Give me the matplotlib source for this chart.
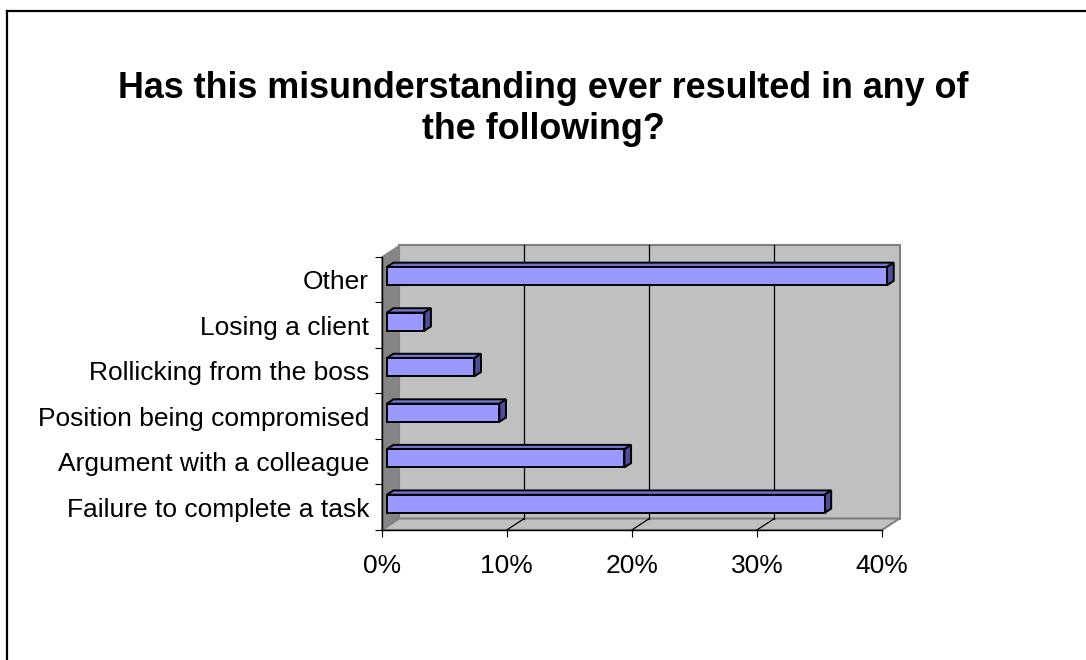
import matplotlib
matplotlib.use("Agg")
import matplotlib.pyplot as plt
from matplotlib.patches import Polygon
from matplotlib.lines import Line2D
from matplotlib.transforms import IdentityTransform
import numpy as np

# ---------------- data ----------------
categories = ["Failure to complete a task", "Argument with a colleague",
              "Position being compromised", "Rollicking from the boss",
              "Losing a client", "Other"]
values = [35, 19, 9, 7, 3, 40]
x_ticks = [0, 10, 20, 30, 40]
x_tick_labels = ["0%", "10%", "20%", "30%", "40%"]
gridlines = [10, 20, 30]
title = "Has this misunderstanding ever resulted in any of\nthe following?"

# ---------------- style ----------------
plt.rcParams['font.family'] = ['Liberation Sans', 'DejaVu Sans']
W, H, DPI = 1086, 660, 100
DX, DY = 17.5, 11.5          # full depth offset in pixels
BAR_D0, BAR_D1 = 0.29, 0.67  # bar depth (fraction)
BAR_H = 0.40                 # bar thickness in category units
FRONT, TOP, SIDE = '#9999FF', '#7373D0', '#4D4D99'
WALL, SIDEWALL, EDGE = '#C0C0C0', '#858585', '#808080'

fig = plt.figure(figsize=(W / DPI, H / DPI), dpi=DPI)
ax = fig.add_axes([381.7 / W, 1 - 530 / H, (882 - 381.7) / W, (530 - 256.7) / H])
ax.set_xlim(x_ticks[0], x_ticks[-1])
ax.set_ylim(-0.5, len(categories) - 0.5)
ax.patch.set_visible(False)
for s in ['top', 'right']:
    ax.spines[s].set_visible(False)
for s in ['left', 'bottom']:
    ax.spines[s].set_linewidth(1.0)
    ax.spines[s].set_color('black')

xmin, xmax = x_ticks[0], x_ticks[-1]
ymin, ymax = -0.5, len(categories) - 0.5


def P(v, c, d):
    x, y = ax.transData.transform((v, c))
    return (x + d * DX, y + d * DY)


def poly(pts, fc, ec, lw, z):
    p = Polygon(pts, closed=True, facecolor=fc, edgecolor=ec, linewidth=lw,
                transform=IdentityTransform(), clip_on=False, zorder=z,
                joinstyle='miter')
    ax.add_patch(p)


def seg(a, b, color, lw, z):
    ln = Line2D([a[0], b[0]], [a[1], b[1]], color=color, linewidth=lw,
                transform=IdentityTransform(), clip_on=False, zorder=z)
    ax.add_line(ln)


# back wall
poly([P(xmin, ymin, 1), P(xmax, ymin, 1), P(xmax, ymax, 1), P(xmin, ymax, 1)],
     WALL, EDGE, 1.5, 0.5)
# side wall
poly([P(xmin, ymin, 0), P(xmin, ymin, 1), P(xmin, ymax, 1), P(xmin, ymax, 0)],
     SIDEWALL, SIDEWALL, 0.5, 0.55)
# floor
poly([P(xmin, ymin, 0), P(xmax, ymin, 0), P(xmax, ymin, 1), P(xmin, ymin, 1)],
     WALL, EDGE, 1.5, 0.6)
# gridlines on back wall and floor
for g in gridlines:
    seg(P(g, ymin, 1), P(g, ymax, 1), 'black', 0.9, 0.7)
    seg(P(g, ymin, 0), P(g, ymin, 1), 'black', 0.9, 0.7)

# bars
for i, v in enumerate(values):
    y0, y1 = i - BAR_H / 2, i + BAR_H / 2
    poly([P(0, y1, BAR_D0), P(v, y1, BAR_D0), P(v, y1, BAR_D1), P(0, y1, BAR_D1)],
         TOP, 'black', 1.4, 3)
    poly([P(v, y0, BAR_D0), P(v, y0, BAR_D1), P(v, y1, BAR_D1), P(v, y1, BAR_D0)],
         SIDE, 'black', 1.4, 3)
    poly([P(0, y0, BAR_D0), P(v, y0, BAR_D0), P(v, y1, BAR_D0), P(0, y1, BAR_D0)],
         FRONT, 'black', 1.4, 3.1)

# axes ticks & labels
ax.set_xticks(x_ticks)
ax.set_xticklabels(x_tick_labels, fontsize=19)
ax.tick_params(axis='x', direction='out', length=5, width=0.8, pad=12)
ax.set_yticks(np.arange(ymin, ymax + 0.01, 1.0))
ax.set_yticklabels([])
ax.tick_params(axis='y', which='major', direction='out', length=5, width=0.8)
ax.set_yticks(range(len(categories)), minor=True)
ax.set_yticklabels(categories, minor=True, fontsize=19)
ax.tick_params(axis='y', which='minor', length=0, pad=9)

# title
fig.text(543 / W, 1 - 109 / H, title, ha='center', va='center',
         fontsize=25.8, fontweight='bold', linespacing=1.2)

# outer frame (left and top edges visible)
fig.add_artist(Line2D([7 / W, 7 / W], [0, 1 - 11 / H], color='black', lw=1.6,
                      transform=fig.transFigure))
fig.add_artist(Line2D([7 / W, 1], [1 - 11 / H, 1 - 11 / H], color='black', lw=1.6,
                      transform=fig.transFigure))

fig.savefig('out.png', dpi=DPI)
